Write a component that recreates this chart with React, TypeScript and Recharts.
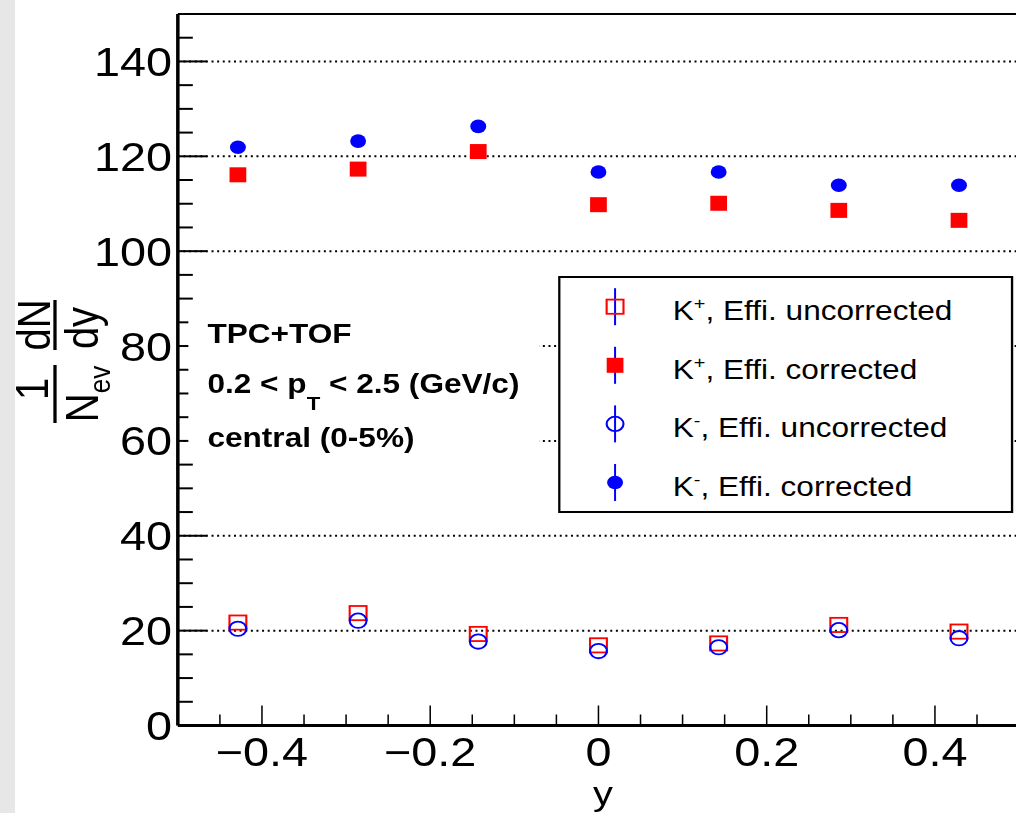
import React from "react"
import { ScatterChart, Scatter, XAxis, YAxis, ReferenceLine, Legend, Label } from "recharts"

// rapidity bin centres (7 bins over -0.5..0.5)
const rapidity = [-0.4286, -0.2857, -0.1429, 0, 0.1429, 0.2857, 0.4286]

// 1/Nev dN/dy
const kPlusUncorr = [21.7, 23.7, 19.3, 16.9, 17.3, 21.2, 19.8]
const kPlusCorr = [116.1, 117.3, 121.0, 109.8, 110.1, 108.6, 106.5]
const kMinusUncorr = [20.4, 22.1, 17.7, 15.7, 16.5, 20.1, 18.4]
const kMinusCorr = [121.9, 123.2, 126.3, 116.7, 116.7, 113.9, 113.9]

const yTicks = [0, 5, 10, 15, 20, 25, 30, 35, 40, 45, 50, 55, 60, 65, 70, 75, 80, 85, 90, 95, 100, 105, 110, 115, 120, 125, 130, 135, 140, 145]
const yMajor = [0, 20, 40, 60, 80, 100, 120, 140]
const xTicks = [-0.45, -0.4, -0.35, -0.3, -0.25, -0.2, -0.15, -0.1, -0.05, 0, 0.05, 0.1, 0.15, 0.2, 0.25, 0.3, 0.35, 0.4, 0.45]
const xMajor = [-0.4, -0.2, 0, 0.2, 0.4]
const xMajorLabels = ["\u22120.4", "\u22120.2", "0", "0.2", "0.4"]
const gridLevels = [20, 40, 60, 80, 100, 120, 140]

const legendCharge = ["+", "+", "-", "-"]
const legendText = [", Effi. uncorrected", ", Effi. corrected", ", Effi. uncorrected", ", Effi. corrected"]

const infoLines = ["TPC+TOF", "0.2 < p_T < 2.5 (GeV/c)", "central (0-5%)"]

// the reference is horizontally stretched, so draw narrower and scale x
const STRETCH = 1.17
const W = 885
const H = 813
const PLOT_LEFT = 152
const PLOT_BOTTOM = 725.5
const FONT = "'Liberation Sans', Arial, Helvetica, sans-serif"
const RED = "#ff0000"
const BLUE = "#0000ff"

const toPoints = (vals: number[]) => rapidity.map((x, i) => ({ x, v: vals[i] }))

const OpenSquare = ({ cx, cy }: any) => (
  <rect x={cx - 7.2} y={cy - 7.1} width={14.4} height={14.2} fill="none" stroke={RED} strokeWidth={1.8} />
)
const FullSquare = ({ cx, cy }: any) => (
  <rect x={cx - 7.15} y={cy - 7.5} width={14.3} height={15} fill={RED} />
)
const OpenCircle = ({ cx, cy }: any) => (
  <circle cx={cx} cy={cy} r={7.2} fill="none" stroke={BLUE} strokeWidth={1.8} />
)
const FullCircle = ({ cx, cy }: any) => <circle cx={cx} cy={cy} r={6.8} fill={BLUE} />

const markers = [OpenSquare, FullSquare, OpenCircle, FullCircle]

const YTick = ({ y, payload }: any) => {
  const v = payload.value
  const major = yMajor.includes(v)
  return (
    <g>
      <line x1={PLOT_LEFT} x2={PLOT_LEFT + (major ? 24.8 : 12.8)} y1={y} y2={y} stroke="#000" strokeWidth={2} />
      {major && (
        <text x={147} y={y + 14.5} textAnchor="end" fontSize={40} fontFamily={FONT} fill="#000">
          {v}
        </text>
      )}
    </g>
  )
}

const XTick = ({ x, payload }: any) => {
  const idx = xMajor.findIndex((m) => Math.abs(m - payload.value) < 1e-6)
  const major = idx >= 0
  return (
    <g>
      <line x1={x} x2={x} y1={PLOT_BOTTOM} y2={PLOT_BOTTOM - (major ? 20 : 11)} stroke="#000" strokeWidth={1.3} />
      {major && (
        <text x={x} y={766} textAnchor="middle" fontSize={40} fontFamily={FONT} fill="#000">
          {xMajorLabels[idx]}
        </text>
      )}
    </g>
  )
}

const YTitle = () => (
  <g fontFamily={FONT} fill="#000" fontSize={40}>
    <line x1={47} x2={47} y1={365} y2={423} stroke="#000" strokeWidth={2.8} />
    <line x1={47} x2={47} y1={300} y2={350} stroke="#000" strokeWidth={2.8} />
    <text transform="translate(41,389) rotate(-90)" textAnchor="middle">1</text>
    <text transform="translate(83.8,394) rotate(-90)" textAnchor="middle">
      N<tspan fontSize={26} dy={10}>ev</tspan>
    </text>
    <text transform="translate(42.5,325) rotate(-90)" textAnchor="middle">dN</text>
    <text transform="translate(83.8,328) rotate(-90)" textAnchor="middle">dy</text>
  </g>
)

const XTitle = () => (
  <text x={515.4} y={805.5} textAnchor="middle" fontSize={34} fontFamily={FONT} fill="#000">
    y
  </text>
)

const LegendBox = () => (
  <svg width={389} height={237} style={{ display: "block" }}>
    <rect x={1} y={1} width={387} height={235} fill="#fff" stroke="#000" strokeWidth={2} />
    {legendText.map((t, i) => {
      const cy = 30.7 + i * 58.6
      const Marker = markers[i]
      return (
        <g key={i}>
          <line x1={48.7} x2={48.7} y1={cy - 18.5} y2={cy + 18.5} stroke={BLUE} strokeWidth={1.7} />
          <Marker cx={48.7} cy={cy} />
          <text x={98} y={cy + 13.3} fontSize={27} fontFamily={FONT} fill="#000">
            K<tspan fontSize={17} dy={-11}>{legendCharge[i]}</tspan>
            <tspan dy={11}>{t}</tspan>
          </text>
        </g>
      )
    })}
  </svg>
)

const InfoBox = () => (
  <div style={{ position: "absolute", left: 160.7, top: 300, width: 300.8, height: 162, background: "#fff" }}>
    <svg width={300.8} height={162} style={{ display: "block" }}>
      <g fontFamily={FONT} fontWeight="bold" fontSize={27} fill="#000">
        <text x={16.3} y={42.7}>{infoLines[0]}</text>
        <text x={16.3} y={93.3}>
          0.2 &lt; p<tspan fontSize={19} dy={17}>T</tspan>
          <tspan dy={-17}> &lt; 2.5 (GeV/c)</tspan>
        </text>
        <text x={16.3} y={146.7}>{infoLines[2]}</text>
      </g>
    </svg>
  </div>
)

export default function App() {
  return (
    <div style={{ position: "fixed", left: 0, top: 0, width: 1016, height: 813, overflow: "hidden", background: "#fff" }}>
      <div style={{ position: "absolute", left: 0, top: 0, width: 15, height: 813, background: "#e7e7e7", zIndex: 2 }} />
      <div style={{ position: "relative", width: W, height: H, transform: `scaleX(${STRETCH})`, transformOrigin: "0 0" }}>
        <ScatterChart width={W} height={H} margin={{ top: 14, right: 14, bottom: 0, left: 0 }}>
          {gridLevels.map((g) => (
            <ReferenceLine key={g} y={g} stroke="#000" strokeWidth={2} strokeDasharray="1.7 3.1" />
          ))}
          <ReferenceLine y={150} stroke="#000" strokeWidth={2} />
          <ReferenceLine x={0.5} stroke="#000" strokeWidth={2} />
          <XAxis
            type="number"
            dataKey="x"
            domain={[-0.5, 0.5]}
            ticks={xTicks}
            interval={0}
            tick={<XTick />}
            tickLine={false}
            axisLine={{ stroke: "#000", strokeWidth: 3 }}
            height={87.5}
            allowDataOverflow
          >
            <Label content={XTitle} />
          </XAxis>
          <YAxis
            type="number"
            dataKey="v"
            domain={[0, 150]}
            ticks={yTicks}
            interval={0}
            tick={<YTick />}
            tickLine={false}
            axisLine={{ stroke: "#000", strokeWidth: 3 }}
            width={152}
            allowDataOverflow
          >
            <Label content={YTitle} />
          </YAxis>
          <Scatter name="K+, Effi. uncorrected" data={toPoints(kPlusUncorr)} shape={(p: any) => <OpenSquare cx={p.cx} cy={p.cy} />} isAnimationActive={false} />
          <Scatter name="K+, Effi. corrected" data={toPoints(kPlusCorr)} shape={(p: any) => <FullSquare cx={p.cx} cy={p.cy} />} isAnimationActive={false} />
          <Scatter name="K-, Effi. uncorrected" data={toPoints(kMinusUncorr)} shape={(p: any) => <OpenCircle cx={p.cx} cy={p.cy} />} isAnimationActive={false} />
          <Scatter name="K-, Effi. corrected" data={toPoints(kMinusCorr)} shape={(p: any) => <FullCircle cx={p.cx} cy={p.cy} />} isAnimationActive={false} />
          <Legend
            layout="horizontal"
            verticalAlign="middle"
            align="center"
            content={() => <LegendBox />}
            wrapperStyle={{ left: 476.9, top: 276, width: 389, height: 237 }}
          />
        </ScatterChart>
        <InfoBox />
      </div>
    </div>
  )
}
